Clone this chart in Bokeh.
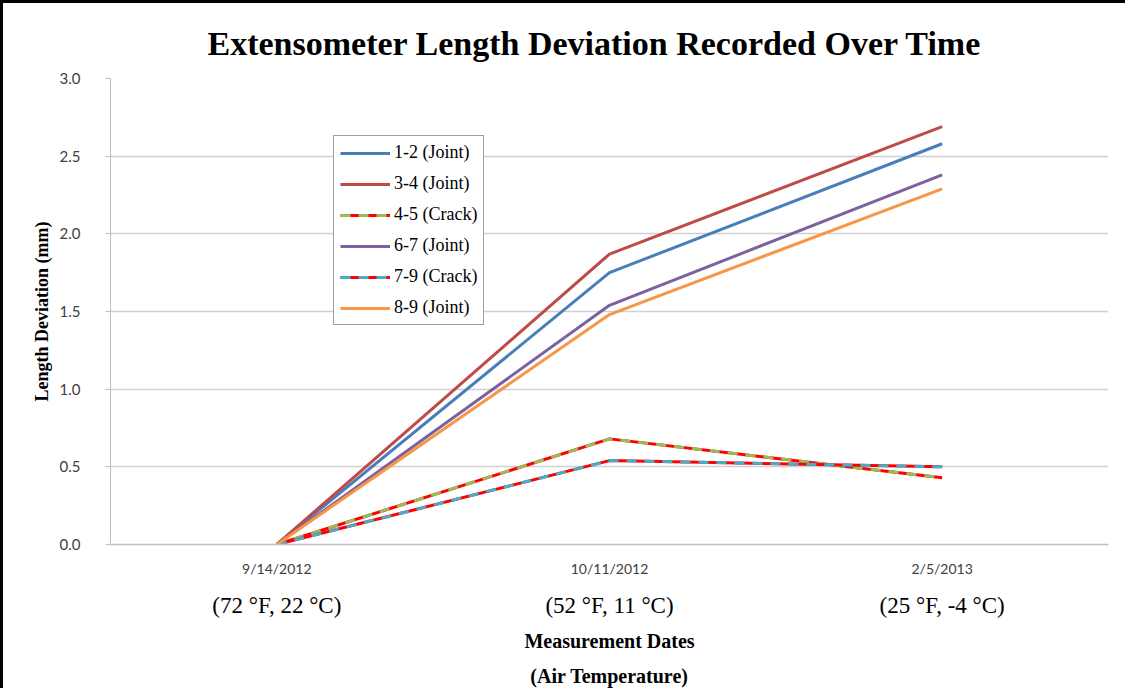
from bokeh.plotting import figure
from bokeh.models import (FactorRange, Range1d, CategoricalAxis, Legend, LegendItem,
                          SingleIntervalTicker, NumeralTickFormatter, Title)
from bokeh.embed import file_html
from bokeh.resources import INLINE

dates = ["9/14/2012", "10/11/2012", "2/5/2013"]
temps = ["(72 \u00b0F, 22 \u00b0C)", "(52 \u00b0F, 11 \u00b0C)", "(25 \u00b0F, -4 \u00b0C)"]

s12 = [0.0, 1.75, 2.58]
s34 = [0.0, 1.87, 2.69]
s45 = [0.0, 0.68, 0.43]
s67 = [0.0, 1.54, 2.38]
s79 = [0.0, 0.54, 0.50]
s89 = [0.0, 1.48, 2.29]

names = ["1-2 (Joint)", "3-4 (Joint)", "4-5 (Crack)", "6-7 (Joint)", "7-9 (Crack)", "8-9 (Joint)"]

p = figure(width=1125, height=688, x_range=FactorRange(factors=dates, range_padding=0),
           y_range=Range1d(0, 3.0), output_backend="svg", toolbar_location=None,
           min_border_left=107, min_border_right=20, min_border_top=75, min_border_bottom=10)
p.extra_x_ranges = {"temps": FactorRange(factors=temps, range_padding=0)}
p.styles = {"border-left": "3px solid black", "border-top": "3px solid black"}
p.outline_line_color = None
p.background_fill_color = "white"

p.title.text = "Extensometer Length Deviation Recorded Over Time"
p.title.text_font = "Liberation Serif"
p.title.text_font_size = "34px"
p.title.text_font_style = "bold"
p.title.align = "left"
p.title.offset = 97
p.title.text_color = "black"
p.title.standoff = 33

p.xgrid.grid_line_color = None
p.ygrid.grid_line_color = "#d0d0d0"
p.ygrid.grid_line_width = 1.5

yax = p.yaxis[0]
yax.ticker = SingleIntervalTicker(interval=0.5)
yax.formatter = NumeralTickFormatter(format="0.0")
yax.axis_line_color = "#c0c0c0"
yax.major_tick_line_color = "#c0c0c0"
yax.major_tick_out = 5
yax.major_tick_in = 0
yax.minor_tick_line_color = None
yax.major_label_text_font = "Lato"
yax.major_label_text_font_size = "15px"
yax.major_label_text_color = "#404040"
yax.major_label_standoff = 25
yax.axis_label = "Length Deviation (mm)"
yax.axis_label_text_font = "Liberation Serif"
yax.axis_label_text_font_size = "18px"
yax.axis_label_text_font_style = "bold"
yax.axis_label_text_color = "black"
yax.axis_label_standoff = 5

xax = p.xaxis[0]
xax.axis_line_color = "#c0c0c0"
xax.axis_line_width = 1.5
xax.major_tick_line_color = None
xax.minor_tick_line_color = None
xax.major_label_text_font = "Lato"
xax.major_label_text_font_size = "14px"
xax.major_label_text_color = "#404040"
xax.major_label_standoff = 9

xax2 = CategoricalAxis(x_range_name="temps")
xax2.axis_line_color = None
xax2.major_tick_line_color = None
xax2.minor_tick_line_color = None
xax2.major_label_text_font = "Liberation Serif"
xax2.major_label_text_font_size = "23px"
xax2.major_label_text_color = "black"
xax2.major_label_standoff = 7
p.add_layout(xax2, "below")

t1 = Title(text="Measurement Dates", align="center", text_font="Liberation Serif",
           text_font_size="20px", text_font_style="bold", text_color="black", standoff=14)
t2 = Title(text="(Air Temperature)", align="center", text_font="Liberation Serif",
           text_font_size="20px", text_font_style="bold", text_color="black", standoff=9)
p.add_layout(t1, "below")
p.add_layout(t2, "below")

W = 3
r12 = p.line(dates, s12, line_color="#4A7EBB", line_width=W)
r34 = p.line(dates, s34, line_color="#BE4B48", line_width=W)
r45a = p.line(dates, s45, line_color="#FF0000", line_width=W)
r45b = p.line(dates, s45, line_color="#9BBB59", line_width=W, line_dash="10 8")
r67 = p.line(dates, s67, line_color="#7D60A0", line_width=W)
r79a = p.line(dates, s79, line_color="#FF0000", line_width=W)
r79b = p.line(dates, s79, line_color="#4BACC6", line_width=W, line_dash="10 8")
r89 = p.line(dates, s89, line_color="#F79646", line_width=W)

items = [
    LegendItem(label=names[0], renderers=[r12]),
    LegendItem(label=names[1], renderers=[r34]),
    LegendItem(label=names[2], renderers=[r45a, r45b]),
    LegendItem(label=names[3], renderers=[r67]),
    LegendItem(label=names[4], renderers=[r79a, r79b]),
    LegendItem(label=names[5], renderers=[r89]),
]
legend = Legend(items=items)
legend.location = (223, 219)
legend.label_text_font = "Liberation Serif"
legend.label_text_font_size = "18px"
legend.label_text_color = "black"
legend.glyph_width = 50
legend.glyph_height = 20
legend.label_standoff = 4
legend.spacing = 10
legend.padding = 6
legend.margin = 0
legend.border_line_color = "#404040"
legend.border_line_width = 1
legend.background_fill_alpha = 1
p.add_layout(legend, "center")

open("out.html", "w").write(file_html(p, INLINE))
